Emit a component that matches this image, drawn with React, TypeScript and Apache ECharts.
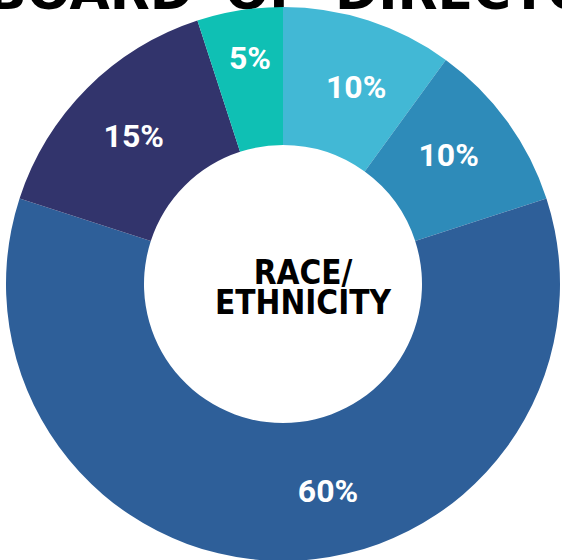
import React, { useEffect, useRef } from "react";
import * as echarts from "echarts";

const categories = ["Group A", "Group B", "Group C", "Group D", "Group E"];
const values = [10, 10, 60, 15, 5];
const colors = ["#42b8d5", "#2e8bb9", "#2e5f99", "#32346c", "#0fc0b4"];
const labelDx = [8, -5, 45, 0, 0];
const labelDy = [4, -5, -4, 1, -18];
const titleWords = ["BOARD", "OF", "DIRECTORS"];
const centerLines = ["RACE/", "ETHNICITY"];

export default function App() {
  const ref = useRef<HTMLDivElement>(null);
  useEffect(() => {
    if (!ref.current) return;
    const chart = echarts.init(ref.current, null, { renderer: "svg" });
    const titleFont = {
      fontFamily: "DejaVu Sans",
      fontWeight: "bold",
      fontSize: 52,
      fill: "#000",
    };
    const centerFont = {
      fontFamily: "DejaVu Sans Condensed",
      fontWeight: "bold",
      fontSize: 33,
      lineHeight: 28,
      align: "center",
      verticalAlign: "middle",
      fill: "#000",
    };
    chart.setOption({
      animation: false,
      backgroundColor: "#ffffff",
      graphic: [
        {
          type: "text",
          x: 193,
          y: -35,
          style: { ...titleFont, text: titleWords[0], align: "right", verticalAlign: "top" },
        },
        {
          type: "text",
          x: 225,
          y: -35,
          style: { ...titleFont, text: titleWords[1], align: "left", verticalAlign: "top" },
        },
        {
          type: "text",
          x: 335,
          y: -35,
          style: { ...titleFont, text: titleWords[2], align: "left", verticalAlign: "top" },
        },
        {
          type: "text",
          x: 303,
          y: 272,
          z: 10,
          style: { ...centerFont, text: centerLines[0] },
        },
        {
          type: "text",
          x: 303,
          y: 302,
          z: 10,
          style: { ...centerFont, text: centerLines[1] },
        },
      ],
      series: [
        {
          type: "pie",
          center: [283, 284],
          radius: [139, 277],
          startAngle: 90,
          clockwise: true,
          avoidLabelOverlap: false,
          itemStyle: { borderWidth: 0 },
          label: {
            show: true,
            position: "inside",
            formatter: "{c}%",
            color: "#ffffff",
            fontFamily: "Roboto",
            fontWeight: "bold",
            fontSize: 32,
          },
          labelLine: { show: false },
          emphasis: { disabled: true },
          labelLayout: (params: any) => ({
            dx: labelDx[params.dataIndex],
            dy: labelDy[params.dataIndex],
          }),
          data: categories.map((name, i) => ({
            name,
            value: values[i],
            itemStyle: { color: colors[i] },
          })),
        },
      ],
    });
    return () => chart.dispose();
  }, []);
  return (
    <div
      ref={ref}
      style={{ position: "fixed", left: 0, top: 0, width: 562, height: 560 }}
    />
  );
}
